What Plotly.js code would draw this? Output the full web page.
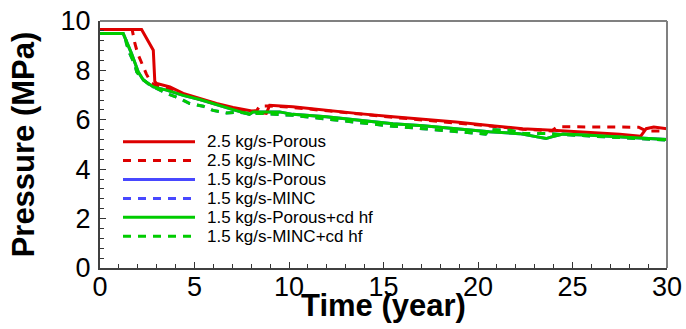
<!DOCTYPE html>
<html>
<head>
<meta charset="utf-8">
<script src="https://cdn.plot.ly/plotly-3.0.1.min.js"></script>
<style>html,body{margin:0;padding:0;background:#fff;}#chart{width:686px;height:329px;}</style>
</head>
<body>
<div id="chart"></div>
<script>
// Time (year) and pressure (MPa)
const tRedPorous = [0, 2.2, 2.82, 2.9, 3.0, 3.7, 4.4, 5.28, 6.16, 7.04, 7.92, 8.27, 8.8, 8.98, 10.2, 11.97, 13.7, 15.5, 17.1, 18.84, 20.6, 22.36, 23.95, 25.7, 27.5, 28.6, 28.9, 29.3, 30];
const pRedPorous = [9.66, 9.66, 8.82, 7.55, 7.47, 7.33, 7.07, 6.86, 6.66, 6.50, 6.36, 6.32, 6.26, 6.59, 6.53, 6.38, 6.25, 6.12, 6.03, 5.91, 5.77, 5.64, 5.58, 5.51, 5.42, 5.33, 5.64, 5.71, 5.64];

const tRedMINC = [0, 1.7, 1.85, 2.0, 2.45, 2.7, 3.0, 3.7, 4.4, 5.28, 6.16, 7.04, 7.9, 8.3, 8.45, 9.0, 10.2, 11.97, 13.7, 15.5, 17.1, 18.84, 20.6, 22.36, 23.9, 24.2, 26, 27.8, 28.5, 28.9, 30];
const pRedMINC = [9.66, 9.66, 9.08, 8.67, 7.86, 7.50, 7.37, 7.27, 7.02, 6.82, 6.62, 6.45, 6.33, 6.38, 6.56, 6.56, 6.50, 6.36, 6.23, 6.10, 5.99, 5.88, 5.75, 5.62, 5.55, 5.72, 5.72, 5.72, 5.70, 5.55, 5.55];

const tGreenPorous = [0, 1.23, 1.67, 2.02, 2.29, 2.82, 3.52, 4.4, 5.28, 6.16, 7.04, 7.9, 8.1, 9.5, 10.2, 11.97, 13.7, 15.5, 17.1, 18.84, 20.6, 22.2, 23.6, 23.9, 24.5, 25.7, 27.5, 30];
const pGreenPorous = [9.49, 9.49, 8.68, 7.94, 7.61, 7.33, 7.20, 6.99, 6.82, 6.63, 6.41, 6.22, 6.32, 6.32, 6.22, 6.12, 5.99, 5.84, 5.76, 5.64, 5.52, 5.44, 5.24, 5.31, 5.42, 5.38, 5.30, 5.20];

const tGreenMINC = [0, 1.3, 1.4, 1.58, 1.85, 1.94, 2.2, 2.64, 2.99, 3.52, 4.23, 4.75, 5.46, 5.98, 6.69, 7.3, 7.9, 8.8, 10.2, 11.97, 13.7, 15.5, 17.1, 18.84, 20.4, 20.6, 21.7, 22.4, 23.8, 24.5, 25.7, 27.5, 30];
const pGreenMINC = [9.49, 9.49, 9.08, 8.68, 8.22, 7.94, 7.68, 7.40, 7.27, 7.07, 6.86, 6.66, 6.55, 6.38, 6.28, 6.31, 6.26, 6.25, 6.18, 6.03, 5.87, 5.74, 5.64, 5.52, 5.42, 5.60, 5.58, 5.45, 5.44, 5.40, 5.36, 5.28, 5.18];

// 1.5 kg/s runs without cd hf coincide with the +cd hf curves (hidden underneath in the reference)
const tBluePorous = tGreenPorous;
const pBluePorous = pGreenPorous;
const tBlueMINC = tGreenMINC;
const pBlueMINC = pGreenMINC;

const seriesNames = ["2.5 kg/s-Porous", "2.5 kg/s-MINC", "1.5 kg/s-Porous", "1.5 kg/s-MINC", "1.5 kg/s-Porous+cd hf", "1.5 kg/s-MINC+cd hf"];
const xTicks = [0, 5, 10, 15, 20, 25, 30];
const yTicks = [0, 2, 4, 6, 8, 10];
const xTitle = "Time (year)";
const yTitle = "Pressure (MPa)";

const RED = "#dd0000", BLUE = "#4848ff", GREEN = "#00cc00";
const DASH = "8px,7px";
const styles = [
  {color: RED, dash: "solid"},
  {color: RED, dash: DASH},
  {color: BLUE, dash: "solid"},
  {color: BLUE, dash: DASH},
  {color: GREEN, dash: "solid"},
  {color: GREEN, dash: DASH}
];
const xs = [tRedPorous, tRedMINC, tBluePorous, tBlueMINC, tGreenPorous, tGreenMINC];
const ys = [pRedPorous, pRedMINC, pBluePorous, pBlueMINC, pGreenPorous, pGreenMINC];
const drawOrder = [2, 3, 0, 1, 4, 5];

const traces = drawOrder.map(i => ({
  type: "scatter", mode: "lines", name: seriesNames[i],
  x: xs[i], y: ys[i],
  line: {color: styles[i].color, dash: styles[i].dash, width: 3},
  showlegend: false, hoverinfo: "skip"
}));

const W = 686, H = 329;
const mL = 100, mR = 19, mT = 21, mB = 61;
const pw = W - mL - mR, ph = H - mT - mB;
const px2x = p => (p - mL) / pw;
const py2y = p => (H - mB - p) / ph;
const FAM = "Liberation Sans, Arial, sans-serif";

const shapes = [
  {type: "line", xref: "paper", yref: "paper", x0: 0, x1: 1, y0: 1, y1: 1, line: {color: "#808080", width: 2}},
  {type: "line", xref: "paper", yref: "paper", x0: 1, x1: 1, y0: 0, y1: 1, line: {color: "#808080", width: 2}}
];
const annotations = [];
// Custom legend (line samples + labels)
seriesNames.forEach((name, i) => {
  const cy = 141.7 + i * 18.9;
  shapes.push({type: "line", xref: "paper", yref: "paper",
    x0: px2x(123), x1: px2x(195), y0: py2y(cy), y1: py2y(cy),
    line: {color: styles[i].color, dash: styles[i].dash, width: 3}});
  annotations.push({xref: "paper", yref: "paper", x: px2x(205), y: py2y(cy),
    xanchor: "left", yanchor: "middle", showarrow: false, text: name,
    font: {family: FAM, size: 17, color: "#000"}});
});
// x-axis title
annotations.push({xref: "paper", yref: "paper", x: 0.5, y: py2y(305), xanchor: "center", yanchor: "middle",
  showarrow: false, text: xTitle, font: {family: FAM, size: 31, color: "#000", weight: "bold"}});

const axisFont = {family: FAM, size: 27, color: "#000"};
const titleFont = {family: FAM, size: 31, color: "#000", weight: "bold"};

const layout = {
  width: W, height: H,
  margin: {l: mL, r: mR, t: mT, b: mB, pad: 0},
  paper_bgcolor: "#fff", plot_bgcolor: "#fff",
  showlegend: false,
  xaxis: {
    range: [0, 30], tickmode: "array", tickvals: xTicks, ticktext: xTicks.map(String),
    ticks: "inside", ticklen: 6, tickwidth: 1, tickcolor: "#333", ticklabelstandoff: -6,
    minor: {dtick: 1, ticks: "inside", ticklen: 4, tickcolor: "#333", showgrid: false},
    showline: true, linecolor: "#404040", linewidth: 2, mirror: false,
    showgrid: false, zeroline: false, tickfont: axisFont, automargin: false
  },
  yaxis: {
    range: [0, 10], tickmode: "array", tickvals: yTicks, ticktext: yTicks.map(String),
    ticks: "inside", ticklen: 6, tickwidth: 1, tickcolor: "#333", ticklabelstandoff: 2,
    minor: {dtick: 0.4, ticks: "inside", ticklen: 4, tickcolor: "#333", showgrid: false},
    showline: true, linecolor: "#404040", linewidth: 2, mirror: false,
    showgrid: false, zeroline: false, tickfont: axisFont,
    title: {text: yTitle, font: titleFont, standoff: 17}, automargin: false
  },
  shapes: shapes,
  annotations: annotations
};

Plotly.newPlot("chart", traces, layout, {staticPlot: true, displayModeBar: false});
</script>
</body>
</html>
